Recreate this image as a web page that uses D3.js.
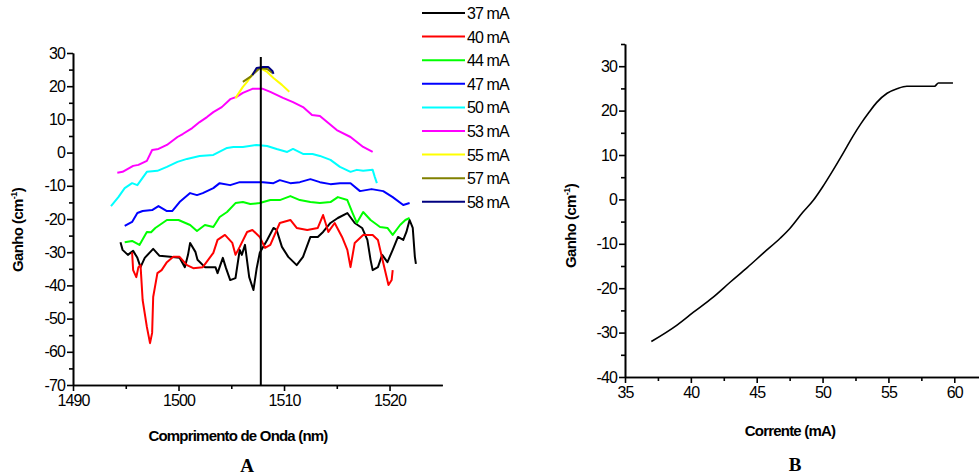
<!DOCTYPE html>
<html>
<head>
<meta charset="utf-8">
<script src="https://d3js.org/d3.v7.min.js"></script>
<style>
  body { margin: 0; background: #fff; }
  text { font-family: "Liberation Sans", Arial, sans-serif; }
  .tick text { font-size: 16px; letter-spacing: -0.9px; }
  .axis path, .axis line { stroke: #000; stroke-width: 1.6px; }
</style>
</head>
<body>
<script>
// ---- data, panel A: gain spectra [wavelength nm, gain cm-1] ----
const currents = ["37 mA", "40 mA", "44 mA", "47 mA", "50 mA", "53 mA", "55 mA", "57 mA", "58 mA"];
const colours = ["#000000", "#ff0000", "#00ff00", "#0000ff", "#00ffff", "#ff00ff", "#ffff00", "#808000", "#000080"];

const s37 = [[1494.5,-27.0],[1494.7,-29.3],[1495.2,-30.8],[1495.7,-29.6],[1496.1,-31.7],[1496.4,-34.5],[1496.8,-31.7],
  [1497.6,-29.0],[1498.2,-31.1],[1499.2,-31.4],[1500.1,-31.7],[1500.6,-34.5],[1500.9,-30.8],[1501.1,-27.2],[1501.6,-29.9],
  [1501.8,-32.3],[1502.5,-34.5],[1503.5,-34.5],[1503.7,-36.3],[1504.2,-31.7],[1504.5,-34.8],[1504.9,-38.4],[1505.4,-37.8],
  [1505.8,-29.3],[1506.0,-30.8],[1506.3,-27.8],[1506.7,-37.5],[1507.1,-41.4],[1507.4,-35.0],[1507.7,-30.2],[1508.4,-26.3],
  [1509.0,-22.7],[1509.3,-23.3],[1509.8,-28.4],[1510.4,-31.4],[1511.2,-33.9],[1511.8,-31.4],[1512.5,-25.4],[1513.2,-25.4],
  [1513.7,-23.9],[1514.4,-21.2],[1515.1,-19.7],[1516.0,-18.2],[1516.7,-21.2],[1517.4,-22.7],[1517.9,-26.3],[1518.2,-32.3],
  [1518.4,-35.4],[1518.9,-34.5],[1519.3,-30.8],[1519.8,-33.0],[1520.3,-29.3],[1520.8,-25.4],[1521.3,-26.3],[1521.6,-23.9],
  [1521.9,-20.3],[1522.2,-22.7],[1522.4,-31.4],[1522.5,-33.5]];
const s40 = [[1495.6,-30.0],[1495.7,-35.4],[1496.0,-37.5],[1496.2,-34.5],[1496.4,-33.9],[1496.6,-44.4],[1497.0,-52.5],
  [1497.3,-57.4],[1497.5,-54.3],[1497.6,-43.5],[1498.0,-36.3],[1498.4,-35.4],[1498.9,-33.0],[1499.5,-31.4],[1500.1,-31.4],
  [1500.8,-33.9],[1501.4,-34.8],[1502.3,-34.5],[1503.3,-30.2],[1503.7,-26.3],[1504.4,-24.8],[1505.1,-27.2],[1505.4,-30.8],
  [1505.8,-28.4],[1506.5,-23.9],[1507.0,-23.3],[1507.7,-25.4],[1508.2,-28.7],[1508.7,-27.8],[1509.6,-21.2],[1510.6,-20.3],
  [1511.2,-22.7],[1512.2,-23.3],[1513.2,-22.7],[1513.7,-18.8],[1514.2,-23.9],[1514.8,-21.2],[1515.5,-25.4],[1516.0,-29.3],
  [1516.3,-34.5],[1516.7,-27.2],[1517.5,-24.8],[1518.4,-24.8],[1518.9,-26.3],[1519.4,-33.2],[1519.9,-39.9],[1520.2,-38.4],
  [1520.3,-35.4]];
const s44 = [[1494.9,-27.0],[1495.6,-26.6],[1496.3,-27.8],[1497.0,-23.9],[1497.4,-24.0],[1497.8,-22.7],[1498.9,-20.3],
  [1500.0,-20.3],[1501.1,-21.8],[1501.75,-23.6],[1502.5,-21.8],[1503.3,-22.4],[1503.9,-19.4],[1504.6,-17.9],[1505.4,-15.2],
  [1506.1,-14.9],[1506.8,-15.5],[1507.7,-15.2],[1508.7,-14.3],[1509.6,-14.3],[1510.6,-13.1],[1511.5,-14.3],[1512.5,-14.9],
  [1513.4,-15.2],[1514.4,-14.9],[1515.1,-13.4],[1516.0,-14.3],[1516.5,-18.2],[1516.9,-21.2],[1517.5,-17.9],[1518.2,-20.3],
  [1519.1,-22.4],[1519.8,-22.7],[1520.3,-24.8],[1521.0,-21.8],[1521.5,-20.3],[1521.9,-19.7]];
const s47 = [[1494.9,-22.1],[1495.6,-20.9],[1496.1,-18.2],[1496.6,-17.6],[1497.5,-17.3],[1498.1,-16.1],[1498.9,-17.6],
  [1499.4,-17.6],[1500.1,-14.9],[1501.1,-12.2],[1501.75,-12.8],[1502.3,-12.2],[1503.3,-10.7],[1503.9,-9.2],[1504.9,-9.8],
  [1505.8,-8.9],[1507.1,-8.9],[1508.0,-8.9],[1509.0,-9.2],[1509.6,-8.3],[1510.6,-9.2],[1511.5,-8.9],[1512.5,-8.0],
  [1513.4,-8.9],[1514.4,-9.5],[1515.3,-9.2],[1516.3,-9.2],[1517.2,-11.6],[1518.3,-11.0],[1519.4,-11.6],[1520.3,-13.4],
  [1521.3,-15.8],[1521.9,-15.2]];
const s50 = [[1493.6,-16.1],[1494.3,-13.4],[1494.9,-10.7],[1495.6,-9.2],[1496.1,-9.8],[1497.0,-5.8],[1498.0,-5.5],
  [1498.9,-4.3],[1499.9,-2.8],[1500.8,-1.9],[1502.0,-1.0],[1503.3,-0.7],[1504.6,1.4],[1505.2,1.7],[1506.1,1.7],
  [1507.4,2.3],[1508.4,2.0],[1509.3,1.1],[1510.3,0.2],[1510.85,1.1],[1511.8,-0.4],[1512.7,-0.4],[1513.4,-1.0],
  [1514.4,-2.2],[1515.3,-4.3],[1516.3,-5.8],[1516.9,-5.2],[1517.5,-5.5],[1518.4,-5.2],[1518.6,-7.3],[1518.8,-9.2]];
const s53 = [[1494.2,-6.1],[1494.7,-5.8],[1495.7,-4.0],[1496.2,-3.7],[1497.0,-2.5],[1497.5,0.8],[1498.1,1.1],
  [1498.9,2.3],[1499.9,4.7],[1500.4,5.6],[1501.3,7.4],[1502.0,9.2],[1502.7,10.7],[1503.3,12.2],[1504.1,13.7],
  [1504.9,16.1],[1505.5,16.8],[1506.1,18.0],[1507.0,19.2],[1508.0,19.2],[1508.7,18.3],[1509.9,16.5],[1510.85,15.2],
  [1511.8,13.7],[1512.65,11.3],[1513.4,11.0],[1515.0,6.8],[1516.3,4.7],[1517.5,1.7],[1518.4,0.2]];
const s55 = [[1505.4,16.4],[1506.1,19.8],[1506.5,21.3],[1507.1,24.0],[1507.7,25.5],[1508.4,24.3],[1509.0,22.5],
  [1509.8,20.4],[1510.5,18.3]];
const s57 = [[1506.1,21.3],[1506.8,22.8],[1507.3,24.3],[1507.7,25.5],[1508.4,25.2],[1508.9,24.0]];
const s58 = [[1507.0,23.4],[1507.4,25.5],[1508.0,25.8],[1508.5,25.8],[1508.9,24.6],[1509.0,23.7]];
const spectra = [s37, s40, s44, s47, s50, s53, s55, s57, s58];
const peakWavelength = 1507.8;
const peakTop = 28.8;

// ---- data, panel B: peak gain vs current [mA, gain cm-1] ----
const gainCurve = [[37.0,-32.0],[38.95,-28.3],[40.2,-25.4],[41.7,-22.0],[43.0,-18.6],[44.3,-15.3],[45.5,-12.1],
  [46.8,-8.7],[47.5,-6.6],[48.5,-2.9],[49.3,-0.2],[50.0,2.8],[50.8,6.6],[51.6,10.6],[52.3,14.2],[52.9,17.0],
  [53.5,19.5],[54.1,21.8],[54.9,23.9],[55.7,25.0],[56.4,25.5],[58.5,25.5],[58.8,26.2],[59.9,26.2]];

const xTicksA = [1490, 1500, 1510, 1520];
const yTicksA = [-70, -60, -50, -40, -30, -20, -10, 0, 10, 20, 30];
const xTicksB = [35, 40, 45, 50, 55, 60];
const yTicksB = [-40, -30, -20, -10, 0, 10, 20, 30];

const svg = d3.select("body").append("svg")
  .attr("width", 979).attr("height", 475);

const plain = d => String(d);   // hyphen minus like the original

function axes(x, y, xt, xm, yt, ym, x0, y0) {
  svg.append("g").attr("class", "axis").attr("transform", "translate(0," + y0 + ")")
    .call(d3.axisBottom(x).tickValues(xm).tickSize(4).tickSizeOuter(0).tickFormat(""));
  svg.append("g").attr("class", "axis").attr("transform", "translate(" + x0 + ",0)")
    .call(d3.axisLeft(y).tickValues(ym).tickSize(4).tickSizeOuter(0).tickFormat(""));
  svg.append("g").attr("class", "axis").attr("transform", "translate(0," + y0 + ")")
    .call(d3.axisBottom(x).tickValues(xt).tickSize(6).tickPadding(4).tickSizeOuter(0).tickFormat(plain));
  svg.append("g").attr("class", "axis").attr("transform", "translate(" + x0 + ",0)")
    .call(d3.axisLeft(y).tickValues(yt).tickSize(6).tickPadding(2).tickSizeOuter(0).tickFormat(plain));
  svg.selectAll(".tick text").attr("fill", "#000");
}

function yTitle(x, y) {
  const t = svg.append("text").attr("transform", "translate(" + x + "," + y + ") rotate(-90)")
    .attr("text-anchor", "middle").attr("font-size", 15).attr("font-weight", "bold")
    .attr("letter-spacing", "-0.6px");
  t.append("tspan").text("Ganho (cm");
  t.append("tspan").attr("dy", -6).attr("font-size", 9).text("-1");
  t.append("tspan").attr("dy", 6).text(")");
}

// ---------- panel A ----------
const xA = d3.scaleLinear().domain([1490, 1525]).range([73, 442.3]);
const yA = d3.scaleLinear().domain([-70, 30]).range([385, 53]);

axes(xA, yA, xTicksA, [1495, 1505, 1515], yTicksA, d3.range(-65, 30, 10), 73, 385);

const lineA = d3.line().x(d => xA(d[0])).y(d => yA(d[1]));
spectra.forEach((s, i) => {
  svg.append("path").datum(s)
    .attr("d", lineA)
    .attr("fill", "none")
    .attr("stroke", colours[i])
    .attr("stroke-width", 2)
    .attr("stroke-linejoin", "round");
});

svg.append("line")
  .attr("x1", xA(peakWavelength)).attr("x2", xA(peakWavelength))
  .attr("y1", yA(peakTop)).attr("y2", yA(-70))
  .attr("stroke", "#000").attr("stroke-width", 2);

// legend
const legend = svg.append("g");
currents.forEach((c, i) => {
  const yy = 13 + i * 23.6;
  legend.append("line").attr("x1", 422).attr("x2", 465).attr("y1", yy).attr("y2", yy)
    .attr("stroke", colours[i]).attr("stroke-width", 2);
  legend.append("text").attr("x", 467).attr("y", yy + 6)
    .attr("font-size", 16).attr("letter-spacing", "-0.9px").text(c);
});

yTitle(23, 230);
svg.append("text").attr("x", 238).attr("y", 441).attr("text-anchor", "middle")
  .attr("font-size", 15).attr("font-weight", "bold").attr("letter-spacing", "-0.8px")
  .text("Comprimento de Onda (nm)");
svg.append("text").attr("x", 247).attr("y", 472).attr("text-anchor", "middle")
  .style("font-family", "'Liberation Serif', 'Times New Roman', serif")
  .attr("font-size", 19).attr("font-weight", "bold").text("A");

// ---------- panel B ----------
const xB = d3.scaleLinear().domain([35, 62.5]).range([625, 987.2]);
const yB = d3.scaleLinear().domain([-40, 35]).range([377, 44]);

axes(xB, yB, xTicksB, [37.5, 42.5, 47.5, 52.5, 57.5, 62.5], yTicksB, d3.range(-35, 36, 10), 625, 377);

svg.append("path").datum(gainCurve)
  .attr("d", d3.line().curve(d3.curveMonotoneX).x(d => xB(d[0])).y(d => yB(d[1])))
  .attr("fill", "none").attr("stroke", "#000").attr("stroke-width", 1.6);

yTitle(576, 226);
svg.append("text").attr("x", 790).attr("y", 436).attr("text-anchor", "middle")
  .attr("font-size", 15).attr("font-weight", "bold").attr("letter-spacing", "-0.8px")
  .text("Corrente (mA)");
svg.append("text").attr("x", 795).attr("y", 471).attr("text-anchor", "middle")
  .style("font-family", "'Liberation Serif', 'Times New Roman', serif")
  .attr("font-size", 19).attr("font-weight", "bold").text("B");
</script>
</body>
</html>
